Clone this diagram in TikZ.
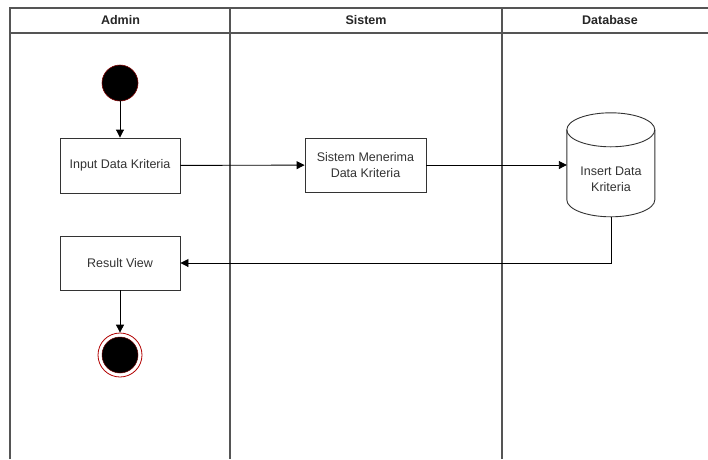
\documentclass[tikz,border=0pt]{standalone}
\usepackage{fontspec}
\setmainfont{Liberation Sans}
\usetikzlibrary{arrows.meta}
\definecolor{lanegray}{HTML}{555555}
\definecolor{boxgray}{HTML}{333333}
\definecolor{ringred}{HTML}{B20000}
\tikzset{
  lane/.style={draw=lanegray,line width=1.3pt},
  label13/.style={align=center,font=\fontsize{12.5}{16}\selectfont,text=black!80},
  actbox/.style={label13,draw=boxgray,line width=0.9pt,fill=white,minimum width=120pt,minimum height=55pt,inner sep=2pt},
  flow/.style={draw=black,line width=0.9pt,-{Triangle[length=8pt,width=8pt]}},
  hdr/.style={font=\fontsize{12.5}{14}\selectfont\bfseries,text=black!85},
  dbline/.style={draw=boxgray,line width=0.9pt}
}
\begin{document}
\begin{tikzpicture}[x=1pt,y=-1pt]
\useasboundingbox (0,0) rectangle (708,459);
\fill[white] (0,0) rectangle (708,459);
% swimlane frame
\draw[lane] (10,459) -- (10,8) -- (708,8);
\draw[lane] (10,33) -- (708,33);
\draw[lane] (230,8) -- (230,459);
\draw[lane] (502,8) -- (502,459);
\node[hdr] (hA) at (120.5,20.5) {Admin};
\node[hdr] (hS) at (366,20.5) {Sistem};
\node[hdr] (hD) at (610,20.5) {Database};
% start node
\node[circle,fill=black,draw=ringred!70!black,line width=0.6pt,minimum size=36pt,inner sep=0pt] (start) at (120,83) {};
% activities
\node[actbox] (input) at (120,165.5) {Input Data Kriteria};
\node[actbox,minimum width=121pt,minimum height=54pt] (terima) at (365.5,165) {Sistem Menerima\\Data Kriteria};
\node[actbox,minimum height=54pt] (result) at (120,263) {Result View};
% database: bounding node plus the drawn cylinder
\node[minimum width=88pt,minimum height=104pt,inner sep=0pt] (db) at (611,165) {};
\fill[white] (db.north west) ++(0,17) -- ++(0,70)
  arc[start angle=180,end angle=0,x radius=44,y radius=17] -- ++(0,-70)
  arc[start angle=0,end angle=-180,x radius=44,y radius=17] -- cycle;
\draw[dbline] (db.north west) ++(0,17) -- ++(0,70)
  arc[start angle=180,end angle=0,x radius=44,y radius=17] -- ++(0,-70)
  arc[start angle=0,end angle=-180,x radius=44,y radius=17] -- cycle;
\draw[dbline] (db.north west) ++(0,17)
  arc[start angle=180,end angle=0,x radius=44,y radius=17];
\node[label13] (dbtext) at (611,179.5) {Insert Data\\Kriteria};
% end node
\node[circle,draw=ringred,line width=0.8pt,fill=white,minimum size=44pt,inner sep=0pt] (endo) at (120,355) {};
\node[circle,fill=black,draw=ringred!60!black,line width=0.5pt,minimum size=36pt,inner sep=0pt] (endi) at (endo) {};
% connectors
\draw[flow] (start) -- (input);
\draw[flow] (input) -- (terima);
\draw[flow] (terima) -- (db.west |- terima);
\coordinate (bend) at (db.south |- result.east);
\draw[flow] (db.south) -- (bend) -- (result.east);
\draw[flow] (result) -- (endo);
\end{tikzpicture}
\end{document}
